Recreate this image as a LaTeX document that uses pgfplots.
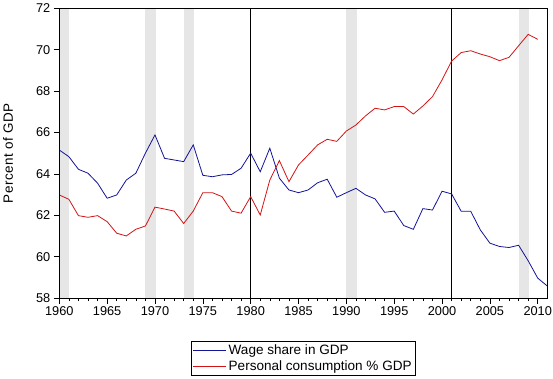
\documentclass[border=0pt]{standalone}
\usepackage{pgfplots}
\pgfplotsset{compat=1.18}
\usepackage{fontspec}
\setmainfont{Liberation Sans}
\definecolor{wageblue}{RGB}{20,20,150}
\definecolor{consred}{RGB}{210,20,20}
\definecolor{band}{RGB}{230,230,230}
\begin{document}
\begin{tikzpicture}
\begin{axis}[
  scale only axis,
  axis on top,
  width=488bp, height=289.7bp,
  xmin=1960, xmax=2011, ymin=58, ymax=72,
  xtick={1960,1965,...,2010},
  ytick={58,60,...,72},
  minor x tick num=4,
  xtick pos=bottom, ytick pos=left,
  tick align=outside,
  major tick length=5.5bp, minor tick length=3bp,
  tick style={black, line width=0.6bp},
  axis line style={line width=0.8bp},
  /pgf/number format/assume math mode=true,
  /pgf/number format/1000 sep={},
  tick label style={font=\fontsize{12.8}{14}\selectfont},
  ylabel={Percent of GDP},
  ylabel style={at={(axis description cs:-0.105,0.5)}, anchor=center, font=\fontsize{13.5}{15}\selectfont\addfontfeatures{LetterSpace=4}},
  legend style={at={(0.5,-0.149)}, anchor=north, draw=black, line width=0.6bp,
    font=\fontsize{13.6}{15}\selectfont, inner xsep=2bp, inner ysep=1bp, row sep=1bp,
    /tikz/every even column/.append style={column sep=2bp}},
  legend cell align=left,
  legend image code/.code={\draw[#1] (0bp,0bp) -- (33bp,0bp);},
]
\coordinate (plotSW) at (rel axis cs:0,0);
% recession bands
\addplot[fill=band, draw=none, forget plot] coordinates {(1960,58) (1960,72) (1961,72) (1961,58)};
\addplot[fill=band, draw=none, forget plot] coordinates {(1969,58) (1969,72) (1970.1,72) (1970.1,58)};
\addplot[fill=band, draw=none, forget plot] coordinates {(1973,58) (1973,72) (1974.1,72) (1974.1,58)};
\addplot[fill=band, draw=none, forget plot] coordinates {(1990,58) (1990,72) (1991.1,72) (1991.1,58)};
\addplot[fill=band, draw=none, forget plot] coordinates {(2008,58) (2008,72) (2009.1,72) (2009.1,58)};
% vertical markers
\addplot[black, line width=0.8bp, forget plot] coordinates {(1980,58) (1980,72)};
\addplot[black, line width=0.8bp, forget plot] coordinates {(2001,58) (2001,72)};
\addplot[wageblue, line width=0.8bp] table {
1960 65.15
1961 64.83
1962 64.22
1963 64.03
1964 63.55
1965 62.82
1966 62.98
1967 63.70
1968 64.03
1969 65.00
1970 65.88
1971 64.75
1972 64.67
1973 64.59
1974 65.40
1975 63.93
1976 63.86
1977 63.95
1978 63.97
1979 64.27
1980 65.00
1981 64.10
1982 65.24
1983 63.79
1984 63.22
1985 63.09
1986 63.22
1987 63.57
1988 63.74
1989 62.87
1990 63.09
1991 63.30
1992 62.98
1993 62.79
1994 62.14
1995 62.20
1996 61.50
1997 61.32
1998 62.32
1999 62.25
2000 63.16
2001 63.03
2002 62.19
2003 62.19
2004 61.29
2005 60.65
2006 60.49
2007 60.44
2008 60.55
2009 59.80
2010 58.96
2011 58.58
};
\addlegendentry{Wage share in GDP}
\addplot[consred, line width=0.8bp] table {
1960 62.98
1961 62.77
1962 61.98
1963 61.90
1964 61.98
1965 61.69
1966 61.13
1967 61.00
1968 61.32
1969 61.48
1970 62.39
1971 62.30
1972 62.20
1973 61.60
1974 62.20
1975 63.09
1976 63.09
1977 62.90
1978 62.20
1979 62.10
1980 62.90
1981 62.01
1982 63.70
1983 64.64
1984 63.62
1985 64.43
1986 64.91
1987 65.40
1988 65.67
1989 65.57
1990 66.07
1991 66.36
1992 66.80
1993 67.17
1994 67.09
1995 67.25
1996 67.25
1997 66.89
1998 67.28
1999 67.73
2000 68.54
2001 69.45
2002 69.86
2003 69.95
2004 69.79
2005 69.66
2006 69.47
2007 69.63
2008 70.19
2009 70.74
2010 70.50
};
\addlegendentry{Personal consumption \% GDP}
\end{axis}
\pgfresetboundingbox
\path ([shift={(-59.3bp,-81bp)}]plotSW) rectangle ++(553bp,379bp);
\end{tikzpicture}
\end{document}
